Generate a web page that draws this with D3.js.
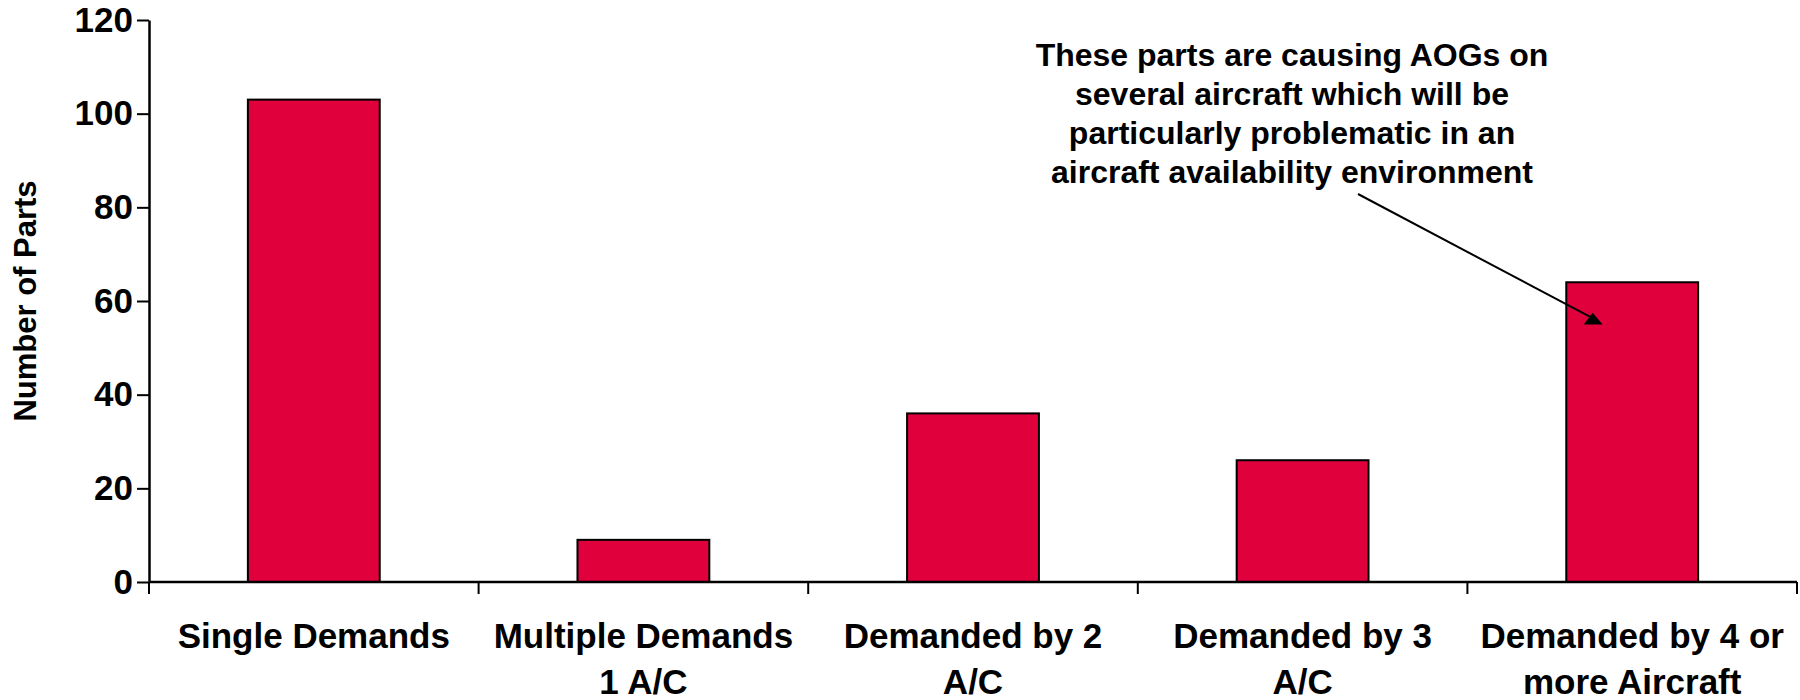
<!DOCTYPE html>
<html>
<head>
<meta charset="utf-8">
<script src="https://cdn.jsdelivr.net/npm/d3@7"></script>
<style>
  html, body { margin: 0; padding: 0; background: #fff; }
  svg { display: block; font-family: "Liberation Sans", Arial, sans-serif; font-weight: bold; }
</style>
</head>
<body>
<svg id="chart" width="1800" height="700"></svg>
<script>
// Parts by demand pattern
const categories = [
  "Single Demands",
  "Multiple Demands 1 A/C",
  "Demanded by 2 A/C",
  "Demanded by 3 A/C",
  "Demanded by 4 or more Aircraft"
];
const categoryLines = [
  ["Single Demands"],
  ["Multiple Demands", "1 A/C"],
  ["Demanded by 2", "A/C"],
  ["Demanded by 3", "A/C"],
  ["Demanded by 4 or", "more Aircraft"]
];
const partCounts = [103, 9, 36, 26, 64];
const yTicks = [0, 20, 40, 60, 80, 100, 120];
const yTitle = "Number of Parts";
const noteLines = [
  "These parts are causing AOGs on",
  "several aircraft which will be",
  "particularly problematic in an",
  "aircraft availability environment"
];
const noteTarget = "Demanded by 4 or more Aircraft";

const svg = d3.select("#chart");
const plotLeft = 149, plotRight = 1797, plotTop = 20, plotBottom = 582;

const x = d3.scaleBand()
  .domain(categories)
  .range([plotLeft, plotRight])
  .paddingInner(0.6)
  .paddingOuter(0.3);

const y = d3.scaleLinear().domain([0, 120]).range([plotBottom, plotTop]);

// Bars
svg.append("g").selectAll("rect")
  .data(categories)
  .join("rect")
  .attr("x", d => x(d))
  .attr("y", (d, i) => y(partCounts[i]))
  .attr("width", x.bandwidth())
  .attr("height", (d, i) => y(0) - y(partCounts[i]))
  .attr("fill", "#E0003C")
  .attr("stroke", "#000")
  .attr("stroke-width", 2);

// Y axis
const yAxis = svg.append("g")
  .attr("transform", `translate(${plotLeft},0)`)
  .call(d3.axisLeft(y).tickValues(yTicks).tickSize(12).tickPadding(4).tickSizeOuter(0));
yAxis.select(".domain").attr("stroke", "#000").attr("stroke-width", 2.5);
yAxis.selectAll(".tick line").attr("stroke", "#000").attr("stroke-width", 2);
yAxis.selectAll(".tick text")
  .attr("fill", "#000")
  .style("font-size", "35px")
  .style("font-weight", "bold")
  .style("font-family", "'Liberation Sans', Arial, sans-serif");

// X axis line with ticks at the band boundaries
const step = x.step();
const boundaries = d3.range(categories.length + 1).map(i => plotLeft + i * step);
svg.append("line")
  .attr("x1", plotLeft).attr("x2", plotRight)
  .attr("y1", plotBottom).attr("y2", plotBottom)
  .attr("stroke", "#000").attr("stroke-width", 2.5);
svg.append("g").selectAll("line")
  .data(boundaries)
  .join("line")
  .attr("x1", d => d).attr("x2", d => d)
  .attr("y1", plotBottom).attr("y2", plotBottom + 12)
  .attr("stroke", "#000").attr("stroke-width", 2);

// Category labels
const labels = svg.append("g").selectAll("text")
  .data(categories)
  .join("text")
  .attr("text-anchor", "middle")
  .attr("x", d => x(d) + x.bandwidth() / 2)
  .attr("y", plotBottom + 66)
  .style("font-size", "35px")
  .attr("fill", "#000");
labels.each(function(d, i) {
  const t = d3.select(this);
  categoryLines[i].forEach((line, j) => {
    t.append("tspan")
      .attr("x", x(d) + x.bandwidth() / 2)
      .attr("dy", j === 0 ? 0 : 46)
      .text(line);
  });
});

// Y axis title
svg.append("text")
  .attr("transform", `translate(36,${(plotTop + plotBottom) / 2}) rotate(-90)`)
  .attr("text-anchor", "middle")
  .style("font-size", "31px")
  .attr("fill", "#000")
  .text(yTitle);

// Annotation
const note = svg.append("text")
  .attr("text-anchor", "middle")
  .style("font-size", "32px")
  .attr("fill", "#000");
noteLines.forEach((line, j) => {
  note.append("tspan")
    .attr("x", 1292)
    .attr("y", 66 + j * 39)
    .text(line);
});

// Pointer from the note into the last bar, ending in a flat-based triangle
const tipX = x(noteTarget) + x.bandwidth() * 0.2;
const tipY = y(57.5);
const baseY = y(55);
svg.append("line")
  .attr("x1", 1358).attr("y1", 194)
  .attr("x2", tipX - 1).attr("y2", tipY + 5)
  .attr("stroke", "#000").attr("stroke-width", 2);
svg.append("path")
  .attr("d", `M${tipX},${tipY} L${tipX + 10},${baseY} L${tipX - 9},${baseY} Z`)
  .attr("fill", "#000");
</script>
</body>
</html>
